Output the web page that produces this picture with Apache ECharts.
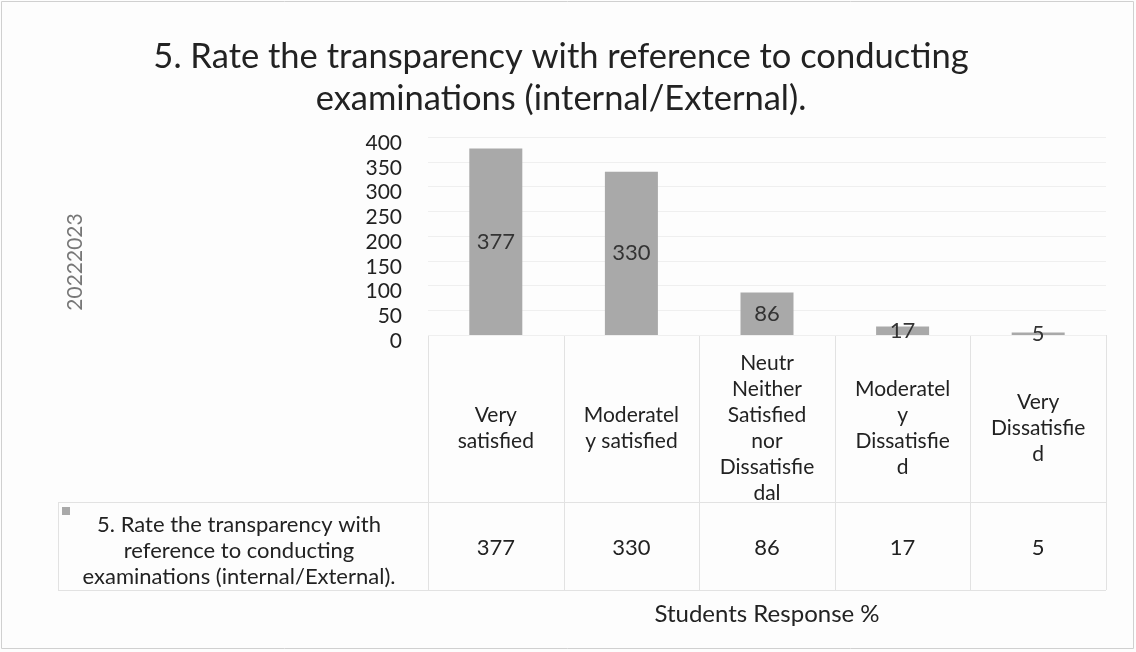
<!DOCTYPE html>
<html>
<head>
<meta charset="utf-8">
<script src="https://cdn.jsdelivr.net/npm/echarts@6/dist/echarts.min.js"></script>
<style>
  html, body { margin: 0; padding: 0; background: #fff; }
  #main { width: 1136px; height: 652px; }
</style>
</head>
<body>
<div id="main"></div>
<script>
// categories as Excel wrapped them in the data table
var categories = [
  'Very\nsatisfied',
  'Moderatel\ny satisfied',
  'Neutr\nNeither\nSatisfied\nnor\nDissatisfie\ndal',
  'Moderatel\ny\nDissatisfie\nd',
  'Very\nDissatisfie\nd'
];
var values = [377, 330, 86, 17, 5];
var yTicks = [0, 50, 100, 150, 200, 250, 300, 350, 400];
var seriesName = '5. Rate the transparency with reference to conducting examinations (internal/External).';
var seriesNameWrapped = '5. Rate the transparency with\nreference to conducting\nexaminations (internal/External).';
var titleText = '5. Rate the transparency with reference to conducting\nexaminations (internal/External).';
var yName = '20222023';
var xName = 'Students Response %';

var FONT = 'Lato, "Noto Sans", sans-serif';
var gLeft = 428, gRight = 1106, gTop = 137, gBottom = 335;
var tableMid = 502, tableEnd = 590, tableLeft = 58;
var lineColor = '#e2e2e2';

var graphics = [];
// table borders
graphics.push({ type: 'line', shape: { x1: gLeft, y1: gBottom + 0.5, x2: gRight, y2: gBottom + 0.5 }, style: { stroke: lineColor, lineWidth: 1 } });
graphics.push({ type: 'line', shape: { x1: tableLeft, y1: tableMid + 0.5, x2: gRight, y2: tableMid + 0.5 }, style: { stroke: lineColor, lineWidth: 1 } });
graphics.push({ type: 'line', shape: { x1: tableLeft, y1: tableEnd + 0.5, x2: gRight, y2: tableEnd + 0.5 }, style: { stroke: lineColor, lineWidth: 1 } });
graphics.push({ type: 'line', shape: { x1: tableLeft + 0.5, y1: tableMid, x2: tableLeft + 0.5, y2: tableEnd }, style: { stroke: lineColor, lineWidth: 1 } });
var cw = (gRight - gLeft) / categories.length;
for (var i = 0; i <= categories.length; i++) {
  var x = Math.round(gLeft + i * cw) + 0.5;
  graphics.push({ type: 'line', shape: { x1: x, y1: gBottom, x2: x, y2: tableEnd }, style: { stroke: lineColor, lineWidth: 1 } });
}
// legend key + series name in the table
graphics.push({ type: 'rect', shape: { x: 62, y: 507, width: 8, height: 8 }, style: { fill: '#a9a9a9' } });
graphics.push({
  type: 'text', x: 239, y: 551,
  style: {
    text: seriesNameWrapped,
    font: '22px ' + FONT, fill: '#222', align: 'center', verticalAlign: 'middle', lineHeight: 26
  }
});
// rotated y axis title
graphics.push({
  type: 'text', x: 75, y: 262, rotation: Math.PI / 2,
  style: { text: yName, font: '21px ' + FONT, fill: '#777', align: 'center', verticalAlign: 'middle' }
});
// outer frame
graphics.push({ type: 'rect', shape: { x: 1.5, y: 1.5, width: 1132, height: 647 }, style: { fill: 'none', stroke: '#d0d0d0', lineWidth: 1 } });

var chart = echarts.init(document.getElementById('main'));
var option = {
  backgroundColor: '#fdfdfd',
  animation: false,
  title: {
    text: titleText,
    left: 556, top: 31, textAlign: 'center',
    textStyle: { fontFamily: FONT, fontSize: 34.5, fontWeight: 'normal', color: '#222', lineHeight: 42 }
  },
  grid: { left: gLeft, right: 1136 - gRight, top: gTop, height: gBottom - gTop },
  xAxis: [{
    type: 'category',
    data: categories,
    axisLine: { show: false },
    axisTick: { show: false },
    axisLabel: {
      interval: 0, margin: 93, verticalAlign: 'middle', lineHeight: 26,
      fontFamily: FONT, fontSize: 21, color: '#222'
    },
    name: xName, nameLocation: 'middle', nameGap: 267,
    nameTextStyle: { fontFamily: FONT, fontSize: 24, color: '#222' }
  }, {
    type: 'category',
    position: 'bottom',
    data: values.map(String),
    axisLine: { show: false },
    axisTick: { show: false },
    axisLabel: { interval: 0, margin: 213, verticalAlign: 'middle', fontFamily: FONT, fontSize: 22, color: '#222' }
  }],
  yAxis: {
    type: 'value',
    min: yTicks[0], max: yTicks[yTicks.length - 1], interval: yTicks[1] - yTicks[0],
    axisLine: { show: false },
    axisTick: { show: false },
    // labels sit a few px below their gridlines in the original
    axisLabel: { margin: 26, verticalAlign: 'top', lineHeight: 12, fontFamily: FONT, fontSize: 21, color: '#222' },
    splitLine: { lineStyle: { color: '#efefef' } }
  },
  series: [{
    name: seriesName,
    type: 'bar',
    data: values,
    barWidth: 53,
    itemStyle: { color: '#a9a9a9' },
    label: { show: true, position: 'inside', fontFamily: FONT, fontSize: 22, color: '#333' }
  }],
  graphic: graphics
};
chart.setOption(option);
</script>
</body>
</html>
